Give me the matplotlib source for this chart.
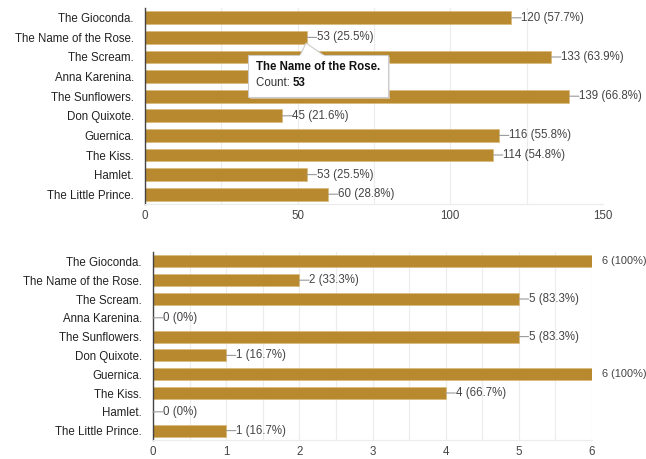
import matplotlib.pyplot as plt
from matplotlib.patches import FancyBboxPatch, Polygon
import numpy as np

titles = [
    "The Gioconda.",
    "The Name of the Rose.",
    "The Scream.",
    "Anna Karenina.",
    "The Sunflowers.",
    "Don Quixote.",
    "Guernica.",
    "The Kiss.",
    "Hamlet.",
    "The Little Prince.",
]
# top chart: counts and percentages (Anna Karenina bar hidden under the tooltip)
top_counts = [120, 53, 133, None, 139, 45, 116, 114, 53, 60]
top_pcts = ["57.7%", "25.5%", "63.9%", None, "66.8%", "21.6%", "55.8%", "54.8%", "25.5%", "28.8%"]
top_hidden_count = 50  # estimate, its end and label sit behind the tooltip
top_ticks = [0, 50, 100, 150]

bottom_counts = [6, 2, 5, 0, 5, 1, 6, 4, 0, 1]
bottom_pcts = ["100%", "33.3%", "83.3%", "0%", "83.3%", "16.7%", "100%", "66.7%", "0%", "16.7%"]
bottom_ticks = [0, 1, 2, 3, 4, 5, 6]

BAR = "#b8892f"
EDGE = "#d9b978"
LABEL = "#222222"
VAL = "#444444"
W, H = 646, 459

fig = plt.figure(figsize=(W / 100, H / 100), dpi=100)
plt.rcParams["font.family"] = ["Liberation Sans", "DejaVu Sans"]


def px_axes(left, top, right, bottom):
    return fig.add_axes([left / W, 1 - bottom / H, (right - left) / W, (bottom - top) / H])


def style(ax, xmax, ticks, grid_step):
    ax.set_xlim(0, xmax)
    ax.set_ylim(len(titles) - 0.5, -0.5)
    ax.set_yticks(range(len(titles)))
    ax.set_yticklabels(titles, fontsize=8.3, color=LABEL)
    ax.set_xticks(ticks)
    ax.set_xticklabels([str(t) for t in ticks], fontsize=8.3, color=VAL)
    ax.set_xticks(np.arange(0, xmax + grid_step / 2, grid_step), minor=True)
    ax.tick_params(length=0, which="both")
    ax.tick_params(axis="x", pad=4.5)
    ax.tick_params(axis="y", pad=8)
    ax.grid(axis="x", which="both", color="#ececec", lw=0.8)
    ax.set_axisbelow(True)
    for s in ["top", "right"]:
        ax.spines[s].set_visible(False)
    ax.spines["bottom"].set_color("#ececec")
    ax.spines["left"].set_color("#444444")
    ax.spines["left"].set_linewidth(1.0)


def labels(ax, counts, pcts, xmax):
    for i, (c, p) in enumerate(zip(counts, pcts)):
        if c is None:
            continue
        size = 8.3
        if c < xmax:
            ax.annotate("", xy=(c, i), xytext=(7, 0), textcoords="offset points",
                        arrowprops=dict(arrowstyle="-", color="#999999", lw=0.8,
                                        shrinkA=0, shrinkB=0))
        else:
            size = 7.9  # keep the label inside the picture edge
        ax.annotate(f"{c} ({p})", xy=(c, i), xytext=(7.2, 0), textcoords="offset points",
                    va="center", ha="left", fontsize=size, color=VAL, annotation_clip=False)


# top chart
ax1 = px_axes(145, 8, 603, 204)
vals1 = [top_hidden_count if c is None else c for c in top_counts]
ax1.barh(range(len(titles)), vals1, height=0.66, color=BAR, edgecolor=EDGE, lw=0.5)
style(ax1, 150, top_ticks, 25)
labels(ax1, top_counts, top_pcts, 150)

# tooltip over the second bar
tip = FancyBboxPatch((248, 55), 140, 42, boxstyle="square,pad=0", transform=None,
                     facecolor="white", edgecolor="#cccccc", lw=0.8, zorder=10)
shadow = FancyBboxPatch((250, 57), 140, 42, boxstyle="square,pad=0", transform=None,
                        facecolor="#dddddd", edgecolor="none", zorder=9, alpha=0.6)
# patches with transform=None use display coords from the bottom, so flip y
for p in (tip, shadow):
    p.set_y(H - p.get_y() - p.get_height())
    fig.add_artist(p)
pointer = Polygon([(300 / W, 1 - 55.5 / H), (306 / W, 1 - 43 / H), (324 / W, 1 - 55.5 / H)],
                  closed=True, transform=fig.transFigure, facecolor="white",
                  edgecolor="#cccccc", lw=0.8, zorder=11)
fig.add_artist(pointer)
fig.add_artist(plt.Line2D([300.6 / W, 323.4 / W], [1 - 55.5 / H, 1 - 55.5 / H],
                          transform=fig.transFigure, color="white", lw=1.4, zorder=12))
fig.text(256 / W, 1 - 67 / H, "The Name of the Rose.", fontsize=8.3, fontweight="bold",
         color="#111111", va="center", zorder=13)
fig.text(256 / W, 1 - 83 / H, "Count: ", fontsize=8.3, color="#333333", va="center", zorder=13)
fig.text(293 / W, 1 - 83 / H, "53", fontsize=8.3, fontweight="bold", color="#111111",
         va="center", zorder=13)

# bottom chart
ax2 = px_axes(153, 252, 592, 440)
ax2.barh(range(len(titles)), bottom_counts, height=0.64, color=BAR, edgecolor=EDGE, lw=0.5)
style(ax2, 6, bottom_ticks, 0.5)
labels(ax2, bottom_counts, bottom_pcts, 6)

fig.savefig("out.png", dpi=100)
